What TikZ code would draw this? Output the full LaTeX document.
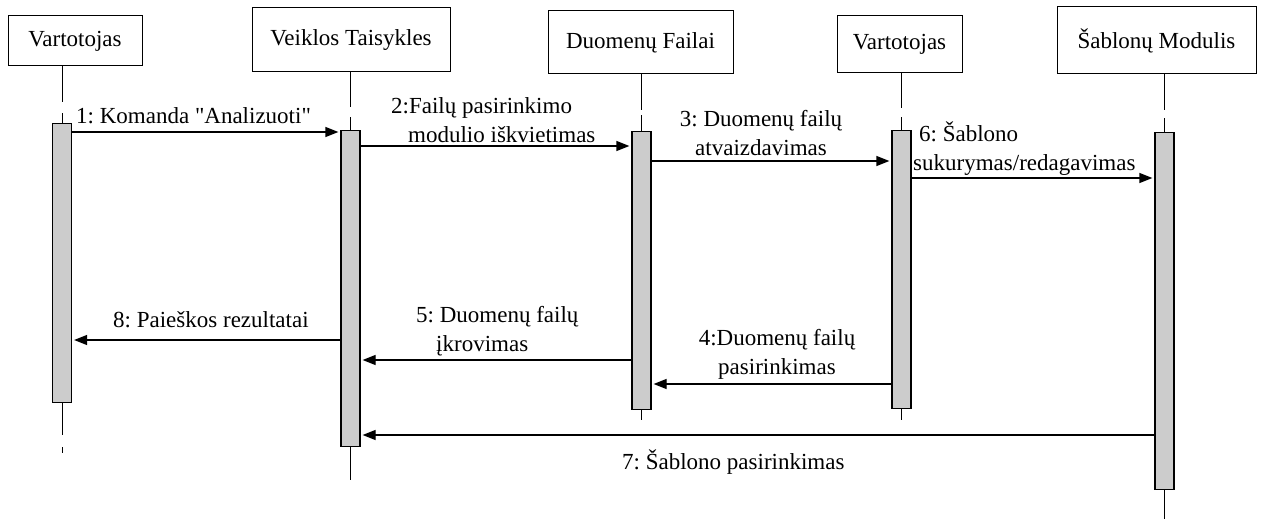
\documentclass[tikz,border=0pt]{standalone}
\usepackage{fontspec}
\setmainfont{Liberation Serif}
\usetikzlibrary{arrows.meta}
\frenchspacing
\begin{document}
\begin{tikzpicture}[x=1pt,y=-1pt,
  every node/.style={font=\fontsize{23}{29}\selectfont},
  objbox/.style={draw, line width=1pt, inner sep=0pt},
  actbar/.style={draw, line width=1.3pt, fill=black!20, minimum width=19pt, inner sep=0pt, anchor=north},
  life/.style={line width=1pt},
  msg/.style={line width=1.3pt, -{Triangle[length=13pt,width=10pt]}, shorten >=2pt},
  lbl/.style={inner sep=0pt, text height=15pt, text depth=5pt}]
\useasboundingbox (0,0) rectangle (1262,519);

% object boxes
\node[objbox, minimum width=134pt, minimum height=50pt] (o1) at (75,41) {Vartotojas};
\node[objbox, minimum width=198pt, minimum height=64pt] (o2) at (351,40) {Veiklos Taisykles};
\node[objbox, minimum width=185pt, minimum height=63pt] (o3) at (640.5,42.5) {Duomenų Failai};
\node[objbox, minimum width=125pt, minimum height=57pt] (o4) at (899.5,44.5) {Vartotojas};
\node[objbox, minimum width=199pt, minimum height=67pt] (o5) at (1156.5,40.5) {Šablonų Modulis};

% activation bars
\node[actbar, minimum height=279pt] (a1) at (62,123) {};
\node[actbar, minimum height=316pt] (a2) at (350.5,130) {};
\node[actbar, minimum height=278pt] (a3) at (641.5,131) {};
\node[actbar, minimum height=278pt] (a4) at (901.5,130) {};
\node[actbar, minimum height=357pt] (a5) at (1164.5,132) {};

% lifelines above the bars (with a short break)
\draw[life] (a1.center |- o1.south) -- (a1.center |- 0,102);
\draw[life] (a1.center |- 0,113) -- (a1.north);
\draw[life] (a2.center |- o2.south) -- (a2.center |- 0,107);
\draw[life] (a2.center |- 0,117) -- (a2.north);
\draw[life] (a3.center |- o3.south) -- (a3.center |- 0,110);
\draw[life] (a3.center |- 0,115) -- (a3.north);
\draw[life] (a4.center |- o4.south) -- (a4.center |- 0,108);
\draw[life] (a4.center |- 0,117) -- (a4.north);
\draw[life] (a5.center |- o5.south) -- (a5.center |- 0,110);
\draw[life] (a5.center |- 0,118) -- (a5.north);

% lifelines below the bars
\draw[life] (a1.south) -- (a1.center |- 0,435);
\draw[life] (a1.center |- 0,447) -- (a1.center |- 0,453);
\draw[life] (a2.south) -- (a2.center |- 0,480);
\draw[life] (a3.south) -- (a3.center |- 0,420);
\draw[life] (a4.south) -- (a4.center |- 0,420);
\draw[life] (a5.south) -- (a5.center |- 0,519);

% messages
\draw[msg] (a1.east |- 0,132) -- (a2.west |- 0,132);
\draw[msg] (a2.east |- 0,146) -- (a3.west |- 0,146);
\draw[msg] (a3.east |- 0,161) -- (a4.west |- 0,161);
\draw[msg] (a4.east |- 0,178) -- (a5.west |- 0,178);
\draw[msg] (a2.west |- 0,340) -- (a1.east |- 0,340);
\draw[msg] (a3.west |- 0,360) -- (a2.east |- 0,360);
\draw[msg] (a4.west |- 0,384) -- (a3.east |- 0,384);
\draw[msg] (a5.west |- 0,435) -- (a2.east |- 0,435);

% message labels
\node[lbl, anchor=west] (l1) at (76,119) {1: Komanda \textquotedbl Analizuoti\textquotedbl};
\node[inner sep=0pt, align=left, anchor=west] (l2) at (391,120) {2:Failų pasirinkimo\\\hspace*{17pt}modulio iškvietimas};
\node[inner sep=0pt, align=center] (l3) at (761,133) {3: Duomenų failų\\atvaizdavimas};
\node[inner sep=0pt, align=left, anchor=west] (l6) at (913,149) {\hspace*{6pt}6: Šablono\\sukurymas/redagavimas};
\node[lbl, anchor=west] (l8) at (113,322) {8: Paieškos rezultatai};
\node[inner sep=0pt, align=left, anchor=west] (l5) at (416,331) {5: Duomenų failų\\\hspace*{20pt}įkrovimas};
\node[inner sep=0pt, align=center] (l4) at (777,354) {4:Duomenų failų\\pasirinkimas};
\node[lbl, anchor=west] (l7) at (622,464) {7: Šablono pasirinkimas};
\end{tikzpicture}
\end{document}
